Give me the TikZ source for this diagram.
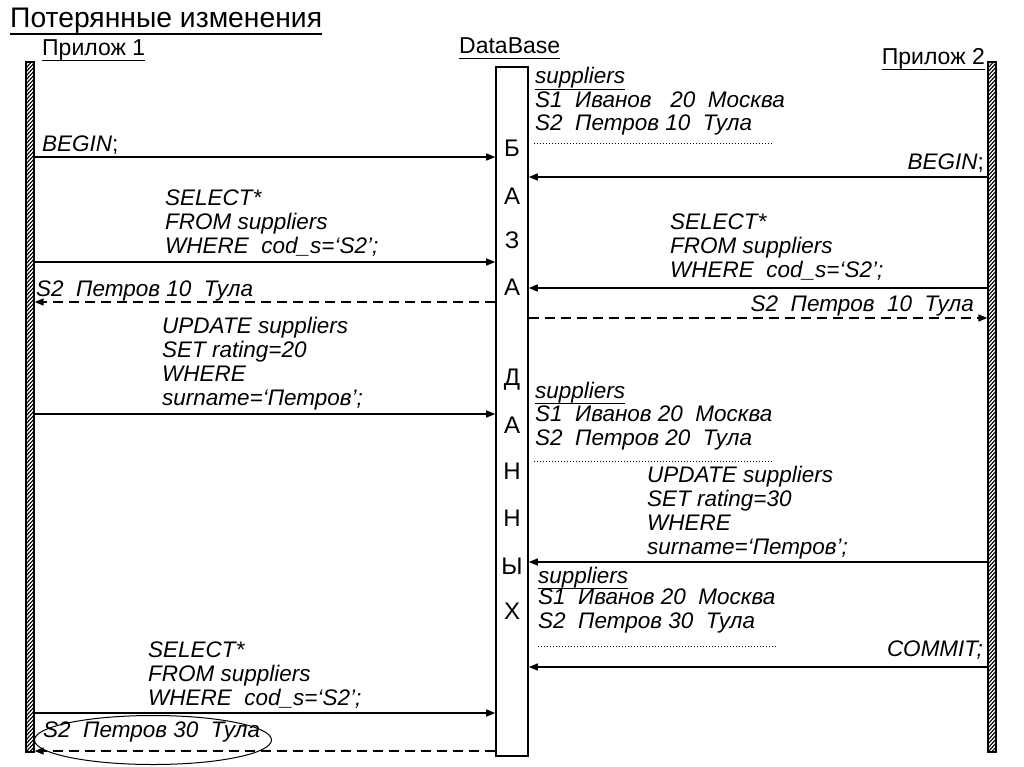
\documentclass[tikz,border=0pt]{standalone}
\usepackage{fontspec}
\setmainfont{Liberation Sans}
\usetikzlibrary{arrows.meta,shapes.geometric}

\tikzset{
  msg/.style={line width=1.5pt,-{Triangle[length=9pt,width=7pt]}},
  reply/.style={msg,dash pattern=on 10pt off 6pt},
  sql/.style={font=\fontsize{22.5}{23.8}\selectfont\itshape,align=left,inner sep=0pt},
  head/.style={font=\fontsize{23}{25}\selectfont,inner sep=0pt,text depth=4pt},
  lifeline/.style={draw,line width=1.3pt,minimum width=8pt,minimum height=690pt,inner sep=0pt,
    path picture={\foreach \k in {-2,...,175}
      \draw[line width=1.1pt] ([yshift=\k*4pt]path picture bounding box.south west) -- ++(9pt,10pt);}},
  dots/.style={line width=1pt,dash pattern=on 1pt off 2pt}
}

\begin{document}
\begin{tikzpicture}[x=1pt,y=-1pt]
  \useasboundingbox (0,0) rectangle (1024,767);

  % headings
  \node[head,font=\fontsize{28.3}{30}\selectfont,text depth=6pt,anchor=base west] (title) at (10,28) {Потерянные изменения};
  \draw[line width=1.5pt] (title.south west) -- (title.south east);
  \node[head,anchor=base west] (h1) at (42,56) {Прилож 1};
  \draw[line width=1.2pt] (h1.south west) -- (h1.south east);
  \node[head,anchor=base west] (hdb) at (459,54) {DataBase};
  \draw[line width=1.2pt] (hdb.south west) -- (hdb.south east);
  \node[head,anchor=base east] (h2) at (985,65) {Прилож 2};
  \draw[line width=1.2pt] (h2.south west) -- (h2.south east);

  % lifelines and database
  \node[lifeline] (app1) at (30,407) {};
  \node[lifeline] (app2) at (992,407) {};
  \node[draw,line width=1.6pt,minimum width=32pt,minimum height=689pt,inner sep=0pt] (db) at (512,411.5) {};
  \foreach \c/\y [count=\i] in {Б/148,А/196,З/240,А/287,Д/380,А/425,Н/471,Н/518,Ы/566,Х/611}
    \node[font=\fontsize{24}{26}\selectfont] (let\i) at (512,\y) {\c};

  % message levels
  \coordinate (m1) at (0,157);
  \coordinate (m2) at (0,177);
  \coordinate (m3) at (0,262);
  \coordinate (m4) at (0,288);
  \coordinate (m5) at (0,302);
  \coordinate (m6) at (0,318);
  \coordinate (m7) at (0,414);
  \coordinate (m8) at (0,562);
  \coordinate (m9) at (0,667);
  \coordinate (m10) at (0,713);
  \coordinate (m11) at (0,751);

  % Прилож 1
  \node[sql,anchor=base west] (begin1) at (42,152) {BEGIN\upshape;};
  \draw[msg] (app1.east |- m1) -- (db.west |- m1);
  \node[sql,anchor=base west] (sel1) at (165,253) {SELECT*\\FROM suppliers\\WHERE\ \ cod\_s=‘S2’;};
  \draw[msg] (app1.east |- m3) -- (db.west |- m3);
  \node[sql,anchor=base west] (ans1) at (36,296) {S2\ \ Петров 10\ \ Тула};
  \draw[reply] (db.west |- m5) -- (app1.east |- m5);
  \node[sql,anchor=base west] (upd1) at (162,405) {UPDATE suppliers\\SET rating=20\\WHERE\\surname=‘Петров’;};
  \draw[msg] (app1.east |- m7) -- (db.west |- m7);
  \node[sql,anchor=base west] (sel3) at (148,705) {SELECT*\\FROM suppliers\\WHERE\ \ cod\_s=‘S2’;};
  \draw[msg] (app1.east |- m10) -- (db.west |- m10);
  \node[sql,anchor=base west] (ans3) at (43,737) {S2\ \ Петров 30\ \ Тула};
  \node[draw,ellipse,line width=1pt,minimum width=237pt,minimum height=49pt] (oval) at (153,740) {};
  \draw[reply] (db.west |- m11) -- (app1.east |- m11);

  % Прилож 2
  \node[sql,anchor=base east] (begin2) at (984,170) {BEGIN\upshape;};
  \draw[msg] (app2.west |- m2) -- (db.east |- m2);
  \node[sql,anchor=base west] (sel2) at (670,277) {SELECT*\\FROM suppliers\\WHERE\ \ cod\_s=‘S2’;};
  \draw[msg] (app2.west |- m4) -- (db.east |- m4);
  \node[sql,anchor=base east] (ans2) at (974,311) {S2\ \ Петров\ \ 10\ \ Тула};
  \draw[reply] (db.east |- m6) -- (app2.west |- m6);
  \node[sql,anchor=base west] (upd2) at (647,554) {UPDATE suppliers\\SET rating=30\\WHERE\\surname=‘Петров’;};
  \draw[msg] (app2.west |- m8) -- (db.east |- m8);
  \node[sql,anchor=base east] (commit2) at (983,656) {COMMIT;};
  \draw[msg] (app2.west |- m9) -- (db.east |- m9);

  % table states
  \node[sql,text depth=5pt,anchor=base west] (tab1) at (535,84) {suppliers};
  \draw[line width=1pt] (tab1.south west) -- (tab1.south east);
  \node[sql,anchor=base west] (rows1) at (535,131) {S1\ \ Иванов\ \ \ 20\ \ Москва\\S2\ \ Петров 10\ \ Тула};
  \draw[dots] (534,144) -- (773,144);
  \node[sql,text depth=5pt,anchor=base west] (tab2) at (535,398) {suppliers};
  \draw[line width=1pt] (tab2.south west) -- (tab2.south east);
  \node[sql,anchor=base west] (rows2) at (535,445) {S1\ \ Иванов 20\ \ Москва\\S2\ \ Петров 20\ \ Тула};
  \draw[dots] (534,461) -- (773,461);
  \node[sql,text depth=5pt,anchor=base west] (tab3) at (538,583) {suppliers};
  \draw[line width=1pt] (tab3.south west) -- (tab3.south east);
  \node[sql,anchor=base west] (rows3) at (538,628) {S1\ \ Иванов 20\ \ Москва\\S2\ \ Петров 30\ \ Тула};
  \draw[dots] (538,646) -- (777,646);
\end{tikzpicture}
\end{document}
